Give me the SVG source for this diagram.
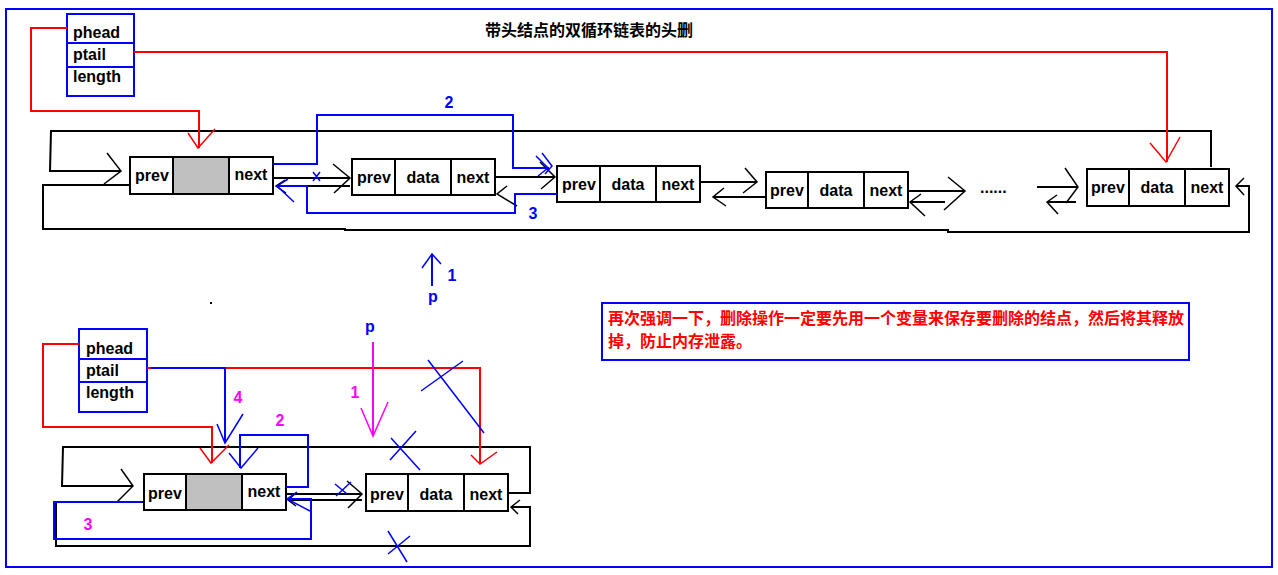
<svg xmlns="http://www.w3.org/2000/svg" width="1278" height="575" viewBox="0 0 1278 575">
<style>
.k{stroke:#000;stroke-width:2;fill:none}
.kt{stroke:#000;stroke-width:1.5;fill:none}
.b{stroke:#0000ff;stroke-width:2;fill:none}
.bt{stroke:#0000ff;stroke-width:1.5;fill:none}
.r{stroke:#ff0000;stroke-width:2;fill:none}
.rt{stroke:#ff0000;stroke-width:1.5;fill:none}
.m{stroke:#ff00ff;stroke-width:2;fill:none}
.mt{stroke:#ff00ff;stroke-width:1.5;fill:none}
.box{fill:#fff;stroke:#000;stroke-width:2}
.sbox{fill:#fff;stroke:#0000ff;stroke-width:2}
.gray{fill:#c0c0c0;stroke:none}
.t{font-family:"Liberation Sans","Noto Sans",sans-serif;font-weight:bold;font-size:16px;fill:#000}
.tc{text-anchor:middle}
.lb{font-family:"Liberation Sans","Noto Sans",sans-serif;font-weight:bold;font-size:16px;fill:#0000ff;text-anchor:middle}
.lm{font-family:"Liberation Sans","Noto Sans",sans-serif;font-weight:bold;font-size:16px;fill:#ff00ff;text-anchor:middle}
.cjk{font-family:"Noto Sans CJK SC","Liberation Sans",sans-serif;font-weight:bold;font-size:16px}
</style>
<rect x="6" y="9" width="1266" height="558" fill="#fff" stroke="#0000ff" stroke-width="2"/>
<text class="cjk" x="485" y="36" fill="#000">带头结点的双循环链表的头删</text>

<g id="struct-top">
<rect class="sbox" x="67" y="14" width="67" height="82"/>
<line class="b" x1="67" y1="43" x2="134" y2="43"/>
<line class="b" x1="67" y1="67" x2="134" y2="67"/>
<text class="t" x="73" y="38">phead</text>
<text class="t" x="73" y="60">ptail</text>
<text class="t" x="73" y="82">length</text>
</g>

<g id="node-head-top">
<rect class="box" x="130" y="157" width="143" height="37"/>
<rect class="gray" x="173" y="158" width="56" height="35"/>
<line class="k" x1="173" y1="157" x2="173" y2="194"/>
<line class="k" x1="229" y1="157" x2="229" y2="194"/>
<text class="t tc" x="152" y="181">prev</text>
<text class="t tc" x="251" y="180">next</text>
</g>
<g id="node2-top">
<rect class="box" x="352" y="159" width="143" height="36"/>
<line class="k" x1="395" y1="159" x2="395" y2="195"/>
<line class="k" x1="451" y1="159" x2="451" y2="195"/>
<text class="t tc" x="374" y="183">prev</text>
<text class="t tc" x="423" y="183">data</text>
<text class="t tc" x="473" y="183">next</text>
</g>
<g id="node3-top">
<rect class="box" x="557" y="166" width="143" height="36"/>
<line class="k" x1="600" y1="166" x2="600" y2="202"/>
<line class="k" x1="656" y1="166" x2="656" y2="202"/>
<text class="t tc" x="579" y="190">prev</text>
<text class="t tc" x="628" y="190">data</text>
<text class="t tc" x="678" y="190">next</text>
</g>
<g id="node4-top">
<rect class="box" x="766" y="172" width="142" height="36"/>
<line class="k" x1="808" y1="172" x2="808" y2="208"/>
<line class="k" x1="864" y1="172" x2="864" y2="208"/>
<text class="t tc" x="787" y="196">prev</text>
<text class="t tc" x="836" y="196">data</text>
<text class="t tc" x="886" y="196">next</text>
</g>
<g id="node5-top">
<rect class="box" x="1087" y="169" width="142" height="37"/>
<line class="k" x1="1129" y1="169" x2="1129" y2="206"/>
<line class="k" x1="1185" y1="169" x2="1185" y2="206"/>
<text class="t tc" x="1108" y="193">prev</text>
<text class="t tc" x="1157" y="193">data</text>
<text class="t tc" x="1207" y="193">next</text>
</g>
<text class="t" x="980" y="193" font-size="17">......</text>

<g id="struct-bottom">
<rect class="sbox" x="79" y="329" width="68" height="83"/>
<line class="b" x1="79" y1="359" x2="147" y2="359"/>
<line class="b" x1="79" y1="382" x2="147" y2="382"/>
<text class="t" x="86" y="354">phead</text>
<text class="t" x="86" y="376">ptail</text>
<text class="t" x="86" y="398">length</text>
</g>
<g id="node-head-bottom">
<rect class="box" x="144" y="474" width="142" height="36"/>
<rect class="gray" x="186" y="475" width="56" height="34"/>
<line class="k" x1="186" y1="474" x2="186" y2="510"/>
<line class="k" x1="242" y1="474" x2="242" y2="510"/>
<text class="t tc" x="165" y="499">prev</text>
<text class="t tc" x="264" y="497">next</text>
</g>
<g id="node2-bottom">
<rect class="box" x="366" y="474" width="142" height="37"/>
<line class="k" x1="408" y1="474" x2="408" y2="511"/>
<line class="k" x1="464" y1="474" x2="464" y2="511"/>
<text class="t tc" x="387" y="500">prev</text>
<text class="t tc" x="436" y="500">data</text>
<text class="t tc" x="486" y="500">next</text>
</g>

<g id="note">
<rect x="602" y="303" width="587" height="57" fill="#fff" stroke="#0000ff" stroke-width="2"/>
<text class="cjk" x="608" y="324" fill="#ff0000">再次强调一下，删除操作一定要先用一个变量来保存要删除的结点，然后将其释放</text>
<text class="cjk" x="608" y="347" fill="#ff0000">掉，防止内存泄露。</text>
</g>

<g id="connectors">
<!-- top loop -->
<polyline class="k" points="1211,167 1211,131 51,131 50,171 120,171"/>
<polyline class="kt" points="107,153 121,171 104,184"/>
<polyline class="k" points="130,185 43,185 43,229 345,229 345,230 948,230 948,232 1249,232 1249,186 1236,186"/>
<polyline class="kt" points="1244,178 1236,186 1244,195"/>
<!-- top node links -->
<line class="k" x1="273" y1="178" x2="349" y2="178"/>
<polyline class="kt" points="333,164 350,178 334,193"/>
<line class="k" x1="350" y1="186" x2="276" y2="186"/>
<polyline class="kt" points="285,180 276,186 286,193"/>
<line class="k" x1="495" y1="177" x2="555" y2="177"/>
<polyline class="kt" points="540,162 555,177 541,189"/>
<polyline class="kt" points="507,186 497,194 517,206"/>
<line class="k" x1="700" y1="182" x2="757" y2="182"/>
<polyline class="kt" points="745,168 757,182 743,193"/>
<line class="k" x1="765" y1="197" x2="713" y2="197"/>
<polyline class="kt" points="724,188 713,197 726,206"/>
<line class="k" x1="908" y1="191" x2="965" y2="191"/>
<polyline class="kt" points="948,177 965,191 944,210"/>
<line class="k" x1="945" y1="202" x2="910" y2="202"/>
<polyline class="kt" points="921,194 910,202 925,216"/>
<line class="k" x1="1037" y1="187" x2="1078" y2="187"/>
<polyline class="kt" points="1065,168 1078,187 1066,203"/>
<line class="k" x1="1076" y1="202" x2="1047" y2="202"/>
<polyline class="kt" points="1057,195 1047,202 1058,214"/>
<!-- top red -->
<polyline class="r" points="67,28 31,28 31,111 199,111 199,148"/>
<polyline class="rt" points="188,133 198,148 215,129"/>
<polyline class="r" points="134,52 1167,52 1167,162"/>
<polyline class="rt" points="1150,143 1166,162 1180,137"/>
<!-- top blue -->
<polyline class="b" points="273,164 317,164 317,115 513,115 513,168 549,168"/>
<polyline class="bt" points="536,156 548,168 538,176"/>
<polyline class="bt" points="542,153 552,166 545,174"/>
<polyline class="b" points="557,194 515,194 515,213 307,213 307,186 277,186"/>
<polyline class="bt" points="288,179 277,186 294,202"/>
<path class="bt" d="M313,172 L320,181 M320,172 L313,181"/>
<text class="lb" x="449" y="108">2</text>
<text class="lb" x="533" y="219">3</text>
<line class="b" x1="432" y1="286" x2="432" y2="254"/>
<polyline class="bt" points="422,268 432,254 441,264"/>
<text class="lb" x="452" y="281">1</text>
<text class="lb" x="433" y="302">p</text>

<!-- bottom loop -->
<polyline class="k" points="508,493 530,493 530,447 63,447 62,486 133,486"/>
<polyline class="kt" points="121,469 133,486 117,502"/>
<polyline class="k" points="144,502 56,502 56,546 530,546 530,507 512,507"/>
<polyline class="kt" points="520,500 511,507 518,514"/>
<line class="k" x1="286" y1="494" x2="362" y2="494"/>
<polyline class="kt" points="347,481 362,494 348,508"/>
<line class="k" x1="362" y1="500" x2="288" y2="500"/>
<polyline class="kt" points="296,493 288,500 296,506"/>
<!-- bottom red -->
<polyline class="r" points="79,344 43,344 43,427 212,427 212,463"/>
<polyline class="rt" points="200,448 211,463 229,445"/>
<polyline class="r" points="147,368 480,368 480,464"/>
<polyline class="rt" points="471,455 480,464 497,452"/>
<!-- bottom blue -->
<polyline class="b" points="151,368 225,368 225,443"/>
<polyline class="bt" points="217,424 225,443 243,414"/>
<text class="lm" x="238" y="403">4</text>
<polyline class="b" points="286,487 308,487 308,435 240,435 240,468"/>
<polyline class="bt" points="229,453 241,468 258,448"/>
<text class="lm" x="280" y="426">2</text>
<polyline class="b" points="142,502 54,502 54,539 311,539 311,499 287,499"/>
<polyline class="bt" points="297,492 287,499 310,511"/>
<text class="lm" x="88" y="530">3</text>
<!-- p arrow -->
<text class="lb" x="370" y="332">p</text>
<line class="m" x1="373" y1="342" x2="373" y2="436"/>
<polyline class="mt" points="361,408 373,436 388,402"/>
<text class="lm" x="355" y="398">1</text>
<!-- crosses -->
<path class="bt" d="M428,360 L484,433 M421,391 L463,361"/>
<path class="bt" d="M391,438 L420,470 M390,460 L416,431"/>
<path class="bt" d="M388,531 L407,562 M388,554 L410,536"/>
<path class="bt" d="M336,496 L351,482 M335,484 L347,494"/>
</g>
<rect x="210" y="302" width="2" height="2" fill="#000"/>
</svg>
